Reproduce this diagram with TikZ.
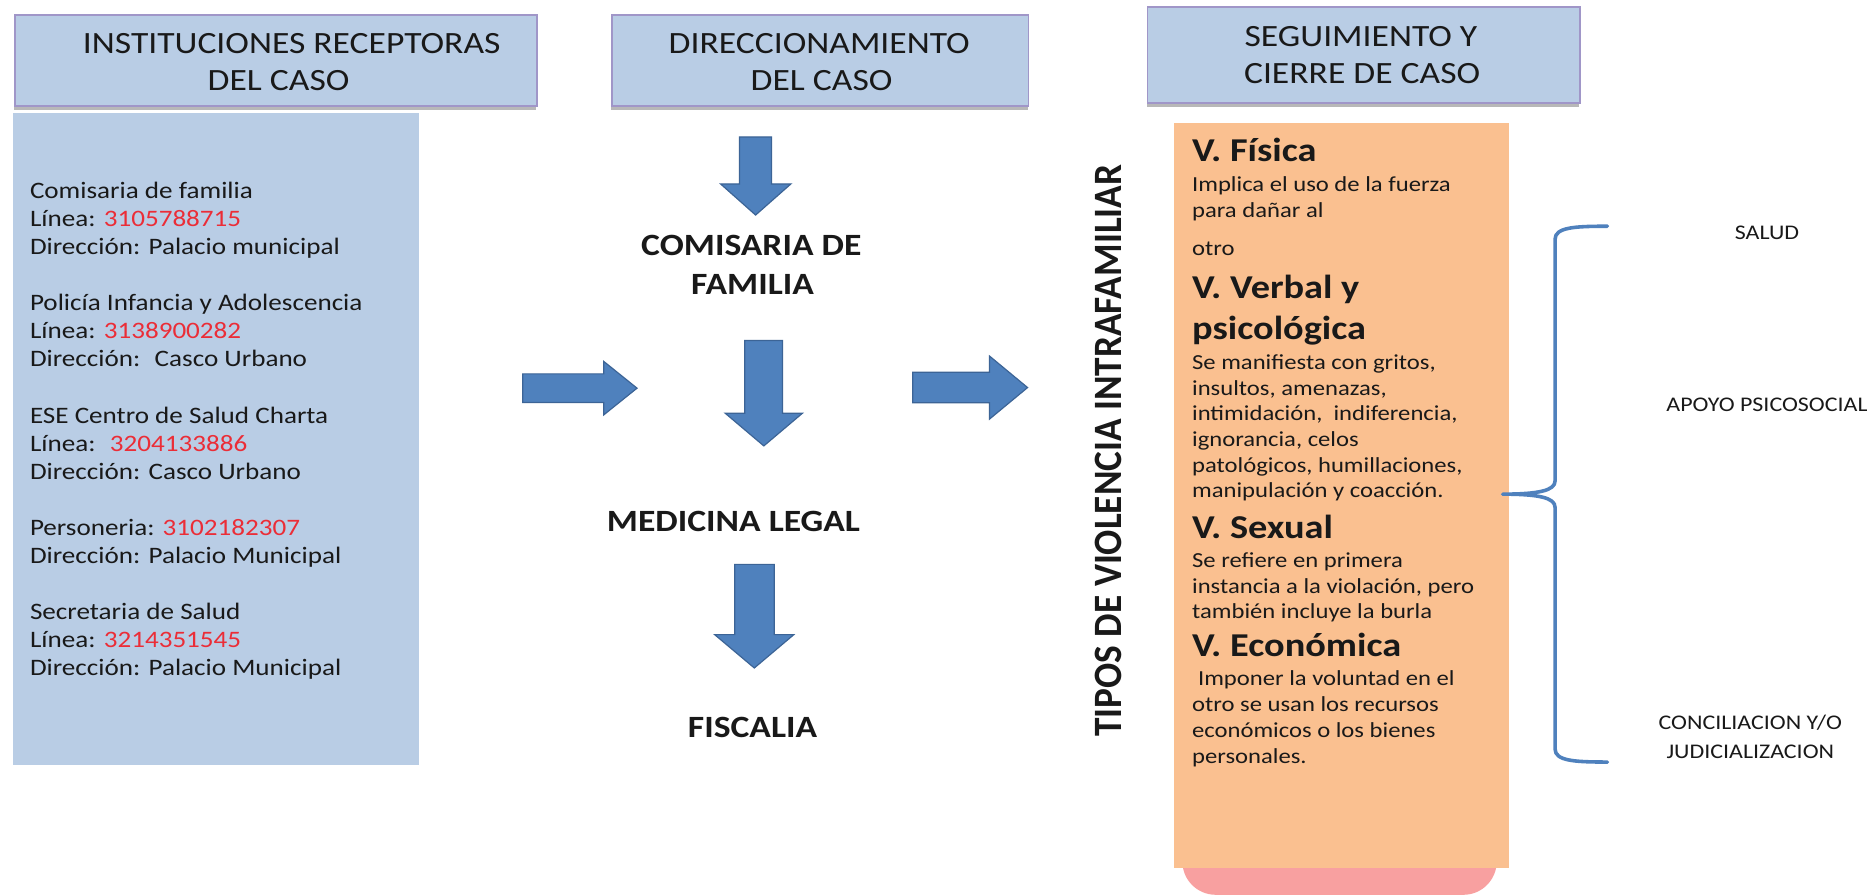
\documentclass[tikz,border=0pt]{standalone}
\usepackage{graphicx}
\usepackage{fontspec}
\setmainfont{Carlito}[FakeStretch=1.15]
\newfontfamily\plainfont{Carlito}
\definecolor{hdrfill}{RGB}{185,205,229}
\definecolor{hdrline}{RGB}{160,150,200}
\definecolor{leftfill}{RGB}{185,205,229}
\definecolor{orangefill}{RGB}{250,192,144}
\definecolor{pinkfill}{RGB}{248,160,160}
\definecolor{arrowfill}{RGB}{79,129,189}
\definecolor{arrowline}{RGB}{60,100,150}
\definecolor{phone}{RGB}{235,45,55}
\definecolor{ink}{RGB}{25,25,25}
\definecolor{bracecol}{RGB}{79,129,189}
\tikzset{
  hdrtext/.style={inner sep=0pt, anchor=base, font=\fontsize{26}{30}\selectfont, text=ink},
  lefttext/.style={inner sep=0pt, anchor=base west, font=\fontsize{19.8}{23.6}\selectfont, text=ink},
  midlabel/.style={inner sep=0pt, anchor=base, font=\fontsize{26}{30}\selectfont\bfseries, text=ink},
  vhead/.style={inner sep=0pt, anchor=base west, font=\fontsize{28}{32}\selectfont\bfseries, text=ink},
  vbody/.style={inner sep=0pt, anchor=base west, font=\fontsize{18}{21.6}\selectfont, text=ink},
  sidelabel/.style={inner sep=0pt, anchor=base, font=\fontsize{17.5}{21}\selectfont, text=ink},
  blockarrow/.style={fill=arrowfill, draw=arrowline, line width=1pt, line join=miter},
  hdrbox/.style={fill=hdrfill, draw=hdrline, line width=1.5pt, inner sep=0pt, anchor=north west},
  hdrshadow/.style={fill=black!28},
  bracestyle/.style={draw=bracecol, line width=3pt, line cap=round, line join=round},
}
\begin{document}
\begin{tikzpicture}[x=1pt,y=-1pt]
\useasboundingbox (0,0) rectangle (1568,751);
\fill[white] (0,0) rectangle (1568,751);

% header boxes
\fill[hdrshadow] (12,16) rectangle (450,92);
\node[hdrbox, minimum width=438pt, minimum height=76pt] (h1) at (12,12) {};
\fill[hdrshadow] (513,16) rectangle (863,92);
\node[hdrbox, minimum width=350pt, minimum height=76pt] (h2) at (513,12) {};
\fill[hdrshadow] (963,9) rectangle (1326,90);
\node[hdrbox, minimum width=363pt, minimum height=81pt] (h3) at (963,5) {};

\node[hdrtext] (h1a) at (245,45) {INSTITUCIONES RECEPTORAS};
\node[hdrtext] (h1b) at (234,76) {DEL CASO};
\node[hdrtext] (h2a) at (688,45) {DIRECCIONAMIENTO};
\node[hdrtext] (h2b) at (690,76) {DEL CASO};
\node[hdrtext] (h3a) at (1143,39) {SEGUIMIENTO Y};
\node[hdrtext] (h3b) at (1144,70) {CIERRE DE CASO};

% left box
\node[fill=leftfill, inner sep=0pt, anchor=north west, minimum width=341pt, minimum height=547.5pt] (recep) at (10.6,95) {};
\foreach \yy/\tt [count=\i] in {
  166.5/{Comisaria de familia},
  190.1/{Línea: \textcolor{phone}{3105788715}},
  213.7/{Dirección: Palacio municipal},
  260.9/{Policía Infancia y Adolescencia},
  284.5/{Línea: \textcolor{phone}{3138900282}},
  308.1/{Dirección: \ Casco Urbano},
  355.3/{ESE Centro de Salud Charta},
  378.9/{Línea: \ \textcolor{phone}{3204133886}},
  402.5/{Dirección: Casco Urbano},
  449.7/{Personeria: \textcolor{phone}{3102182307}},
  473.3/{Dirección: Palacio Municipal},
  520.5/{Secretaria de Salud},
  544.1/{Línea: \textcolor{phone}{3214351545}},
  567.7/{Dirección: Palacio Municipal}}
  \node[lefttext, name=rl\i] at (25,\yy) {\tt};

% middle column
\draw[blockarrow] (621,115) -- (648,115) -- (648,154.5) -- (664.2,154.5) -- (634.6,180.6) -- (605.2,154.5) -- (621,154.5) -- cycle;
\node[midlabel] (comi1) at (631,215) {COMISARIA DE};
\node[midlabel] (comi2) at (632,247) {FAMILIA};
\draw[blockarrow] (625.4,286) -- (657.2,286) -- (657.2,347) -- (674,347) -- (641.5,374.5) -- (609,347) -- (625.4,347) -- cycle;
\node[midlabel] (medi) at (616,446) {MEDICINA LEGAL};
\draw[blockarrow] (617,474) -- (650.3,474) -- (650.3,533) -- (666.7,533) -- (633.5,561) -- (600.2,533) -- (617,533) -- cycle;
\node[midlabel] (fisc) at (632,619) {FISCALIA};

% horizontal arrows
\draw[blockarrow] (439,314) -- (507,314) -- (507,303.5) -- (535,326) -- (507,348.5) -- (507,338) -- (439,338) -- cycle;
\draw[blockarrow] (766.5,312.7) -- (831,312.7) -- (831,299) -- (863,325.5) -- (831,352) -- (831,338.3) -- (766.5,338.3) -- cycle;

% vertical title
\node[inner sep=0pt, anchor=base, rotate=90, text=ink] (tipos) at (942,378.5)
  {\scalebox{1}[1.08]{\plainfont\bfseries\fontsize{31.3}{34}\selectfont TIPOS DE VIOLENCIA INTRAFAMILIAR}};

% pink base and orange box
\begin{scope}
\clip (0,0) rectangle (1568,751);
\fill[pinkfill, rounded corners=28pt] (993,690) rectangle (1257,751.5);
\end{scope}
\node[fill=orangefill, inner sep=0pt, anchor=north west, minimum width=281.5pt, minimum height=626pt] (tipbox) at (986,103) {};

\node[vhead] (vf) at (1001,135.8) {V. Física};
\node[vhead] (vv1) at (1001,250.5) {V. Verbal y};
\node[vhead] (vv2) at (1001,284.8) {psicológica};
\node[vhead] (vs) at (1001,452) {V. Sexual};
\node[vhead] (ve) at (1001,551.5) {V. Económica};
\foreach \yy/\tt [count=\i] in {
  161/{Implica el uso de la fuerza},
  182.5/{para dañar al},
  214.7/{otro},
  310/{Se manifiesta con gritos,},
  331.8/{insultos, amenazas,},
  353.3/{intimidación, \ indiferencia,},
  374.6/{ignorancia, celos},
  397/{patológicos, humillaciones,},
  418/{manipulación y coacción.},
  476.5/{Se refiere en primera},
  498.3/{instancia a la violación, pero},
  519.3/{también incluye la burla},
  575.3/{\hspace{5pt}Imponer la voluntad en el},
  597.7/{otro se usan los recursos},
  619.3/{económicos o los bienes},
  641/{personales.}}
  \node[vbody, name=ob\i] at (1001,\yy) {\tt};

% brace
\coordinate (bracetip) at (1262,415);
\draw[bracestyle] (1350,190) .. controls (1322,190) and (1306,191) .. (1306,201)
  -- (1306,404) .. controls (1306,412) and (1292,415) .. (bracetip)
  .. controls (1292,415) and (1306,418) .. (1306,426)
  -- (1306,629) .. controls (1306,639) and (1322,640) .. (1350,640);

% right labels
\node[sidelabel] (salud) at (1484,201) {SALUD};
\node[sidelabel] (apoyo) at (1484,346) {APOYO PSICOSOCIAL};
\node[sidelabel] (conc1) at (1470,613) {CONCILIACION Y/O};
\node[sidelabel] (conc2) at (1470,637) {JUDICIALIZACION};
\end{tikzpicture}
\end{document}
